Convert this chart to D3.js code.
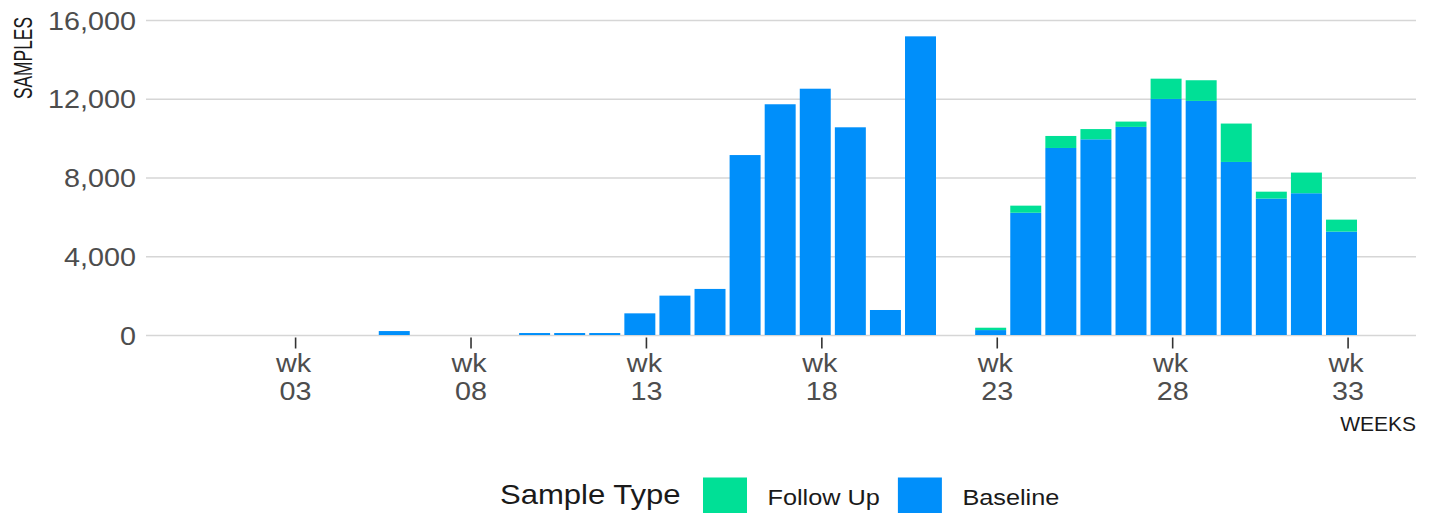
<!DOCTYPE html>
<html>
<head>
<meta charset="utf-8">
<script src="https://d3js.org/d3.v7.min.js"></script>
<style>
    html, body { margin: 0; padding: 0; background: #fff; }
    svg { display: block; font-family: "Liberation Sans", Arial, sans-serif; }
</style>
</head>
<body>
<div id="chart"></div>
<script>
var weeks = [6, 10, 11, 12, 13, 14, 15, 16, 17, 18, 19, 20, 21, 23, 24, 25, 26, 27, 28, 29, 30, 31, 32, 33];
var baseline = [200, 100, 100, 100, 1100, 2000, 2340, 9140, 11720, 12510, 10550, 1270, 15170,
    250, 6210, 9500, 9940, 10570, 11990, 11890, 8790, 6930, 7200, 5250];
var followUp = [0, 0, 0, 0, 0, 0, 0, 0, 0, 0, 0, 0, 0,
    120, 360, 610, 520, 270, 1030, 1050, 1950, 350, 1050, 610];
var weekTicks = [3, 8, 13, 18, 23, 28, 33];
var yTicks = [0, 4000, 8000, 12000, 16000];
var seriesKeys = ["Follow Up", "Baseline"];
var seriesColors = ["#00e096", "#008ffa"];

var W = 1433, H = 513;
var SX = 1.15; // picture is a little wider than it is tall
var plotLeft = 146, plotRight = 1416, plotTop = 20, plotBottom = 335;

var svg = d3.select("#chart").append("svg")
    .attr("width", W)
    .attr("height", H);

// widen a text horizontally around its own anchor
function stretch(sel) {
    sel.each(function() {
        var ax = +this.getAttribute("x") || 0;
        d3.select(this).attr("transform",
            "translate(" + ax + ",0) scale(" + SX + ",1) translate(" + (-ax) + ",0)");
    });
}

var x = d3.scaleLinear().domain([-1.25, 34.95]).range([plotLeft, plotRight]);
var y = d3.scaleLinear().domain([0, 16000]).range([plotBottom, plotTop]);

var rows = weeks.map(function(w, i) {
    return { week: w, "Baseline": baseline[i], "Follow Up": followUp[i] };
});
var stack = d3.stack().keys(["Baseline", "Follow Up"]);
var layers = stack(rows);

// grid
var grid = svg.append("g")
    .attr("transform", "translate(" + plotLeft + ",0)")
    .call(d3.axisLeft(y).tickValues(yTicks).tickSize(-(plotRight - plotLeft)).tickFormat(""));
grid.select(".domain").remove();
grid.selectAll(".tick line").attr("stroke", "#d6d6d6").attr("stroke-width", 1.5);

// y labels
var yAxis = svg.append("g")
    .attr("transform", "translate(" + plotLeft + ",0)")
    .call(d3.axisLeft(y).tickValues(yTicks).tickSize(0).tickPadding(10).tickFormat(d3.format(",")));
yAxis.select(".domain").remove();
yAxis.selectAll(".tick text")
    .attr("font-size", 25)
    .attr("font-family", "Liberation Sans, Arial, sans-serif")
    .attr("fill", "#4d4d4d")
    .attr("dy", "0.36em")
    .call(stretch);

// bars
svg.append("g").selectAll("g")
    .data(layers)
    .join("g")
    .attr("fill", function(d) { return d.key == "Baseline" ? seriesColors[1] : seriesColors[0]; })
    .selectAll("rect")
    .data(function(d) { return d.filter(function(p) { return p[1] > p[0]; }); })
    .join("rect")
    .attr("x", function(d) { return x(d.data.week - 0.615); })
    .attr("width", function(d) { return x(d.data.week + 0.268) - x(d.data.week - 0.615); })
    .attr("y", function(d) { return y(d[1]); })
    .attr("height", function(d) { return y(d[0]) - y(d[1]); });

// x axis
var xAxis = svg.append("g")
    .attr("transform", "translate(0," + (plotBottom + 2.5) + ")")
    .call(d3.axisBottom(x).tickValues(weekTicks).tickSize(11).tickFormat(""));
xAxis.select(".domain").remove();
xAxis.selectAll(".tick line").attr("stroke", "#333").attr("stroke-width", 1.6);
xAxis.selectAll(".tick").each(function(d) {
    var t = d3.select(this);
    t.append("text")
        .attr("x", -2).attr("y", 34.5)
        .attr("text-anchor", "middle")
        .attr("font-size", 25).attr("fill", "#4d4d4d")
        .text("wk")
        .call(stretch);
    t.append("text")
        .attr("x", 0).attr("y", 63)
        .attr("text-anchor", "middle")
        .attr("font-size", 25).attr("fill", "#4d4d4d")
        .text(d3.format("02d")(d))
        .call(stretch);
});

// axis titles (y title is a condensed face: short but thick)
svg.append("text")
    .attr("transform", "translate(32,58) scale(1.45,1) rotate(-90)")
    .attr("text-anchor", "middle")
    .attr("font-size", 17.4)
    .attr("fill", "#1a1a1a")
    .text("SAMPLES");

svg.append("text")
    .attr("x", plotRight).attr("y", 431)
    .attr("text-anchor", "end")
    .attr("font-size", 21)
    .attr("fill", "#1a1a1a")
    .text("WEEKS");

// legend
var legend = svg.append("g");
legend.append("text")
    .attr("x", 500).attr("y", 504)
    .attr("font-size", 27)
    .attr("fill", "#1a1a1a")
    .text("Sample Type")
    .call(stretch);

var lx = 703;
seriesKeys.forEach(function(k, i) {
    legend.append("rect")
        .attr("x", lx).attr("y", 477.5)
        .attr("width", 44).attr("height", 44)
        .attr("fill", seriesColors[i]);
    var label = legend.append("text")
        .attr("x", lx + 64.5).attr("y", 505)
        .attr("font-size", 22)
        .attr("fill", "#1a1a1a")
        .text(k)
        .call(stretch);
    lx = lx + 64.5 + label.node().getComputedTextLength() * SX + 18;
});
</script>
</body>
</html>
